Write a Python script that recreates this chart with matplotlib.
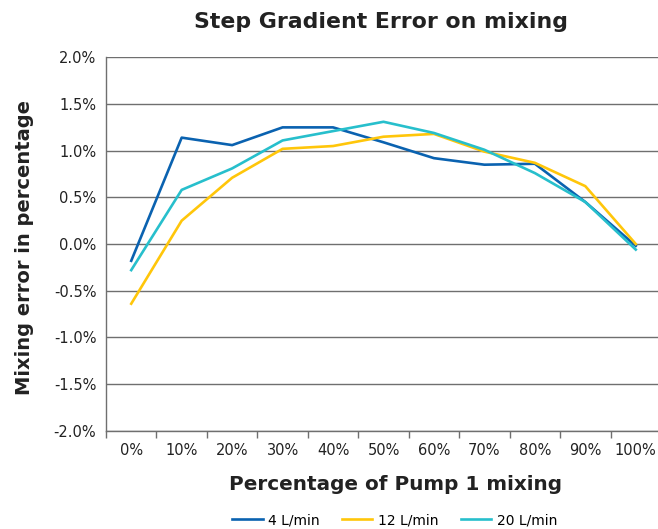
import numpy as np
import matplotlib.pyplot as plt

# data
categories = ['0%', '10%', '20%', '30%', '40%', '50%', '60%', '70%', '80%', '90%', '100%']
flow_4 = [-0.18, 1.14, 1.06, 1.25, 1.25, 1.09, 0.92, 0.85, 0.86, 0.45, -0.02]
flow_12 = [-0.64, 0.25, 0.71, 1.02, 1.05, 1.15, 1.18, 0.99, 0.87, 0.62, 0.0]
flow_20 = [-0.28, 0.58, 0.81, 1.11, 1.21, 1.31, 1.19, 1.01, 0.76, 0.45, -0.06]
y_ticks = [-2.0, -1.5, -1.0, -0.5, 0.0, 0.5, 1.0, 1.5, 2.0]

fig = plt.figure(figsize=(6.58, 5.29), dpi=100)
ax = fig.add_axes([106/658, 98.4/529, 555/658, 373.2/529])

x = np.arange(len(categories))
ax.plot(x, flow_4, color='#0a62b0', lw=1.9, label='4 L/min')
ax.plot(x, flow_12, color='#ffc60a', lw=1.9, label='12 L/min')
ax.plot(x, flow_20, color='#27bfcc', lw=1.9, label='20 L/min')

#Axes and grid
ax.set_xlim(-0.5, len(categories) - 0.5)
ax.set_ylim(-2.0, 2.0)
ax.set_yticks(y_ticks)
ax.set_yticklabels(['{:.1f}%'.format(v) for v in y_ticks], fontsize=10.5, color='#222222')
ax.set_xticks(x)
ax.set_xticklabels(categories, fontsize=10.5, color='#222222')
ax.set_xticks(np.arange(-0.5, len(categories)), minor=True)
ax.tick_params(axis='x', which='major', length=0, pad=9)
ax.tick_params(axis='x', which='minor', length=5, width=1, color='#6f6f6f')
ax.tick_params(axis='y', length=0, pad=7)
ax.grid(axis='y', color='#6f6f6f', lw=1)
ax.set_axisbelow(True)
for s in ['top', 'right']:
    ax.spines[s].set_visible(False)
for s in ['left', 'bottom']:
    ax.spines[s].set_color('#6f6f6f')
    ax.spines[s].set_linewidth(1)

ax.set_title('Step Gradient Error on mixing', fontsize=15.8, fontweight='bold', color='#222222',
             x=0.495, pad=21)
ax.set_xlabel('Percentage of Pump 1 mixing', fontsize=14.4, fontweight='bold', color='#222222')
ax.xaxis.set_label_coords(0.5225, -0.12)
ax.set_ylabel('Mixing error in percentage', fontsize=14, fontweight='bold', color='#222222')
ax.yaxis.set_label_coords(-0.13, 0.49)

ax.legend(loc='center', bbox_to_anchor=(0.52, -0.24), ncol=3, frameon=False,
          fontsize=10, handlelength=2.2, columnspacing=1.6, handletextpad=0.4)

fig.savefig('out.png', dpi=100)
